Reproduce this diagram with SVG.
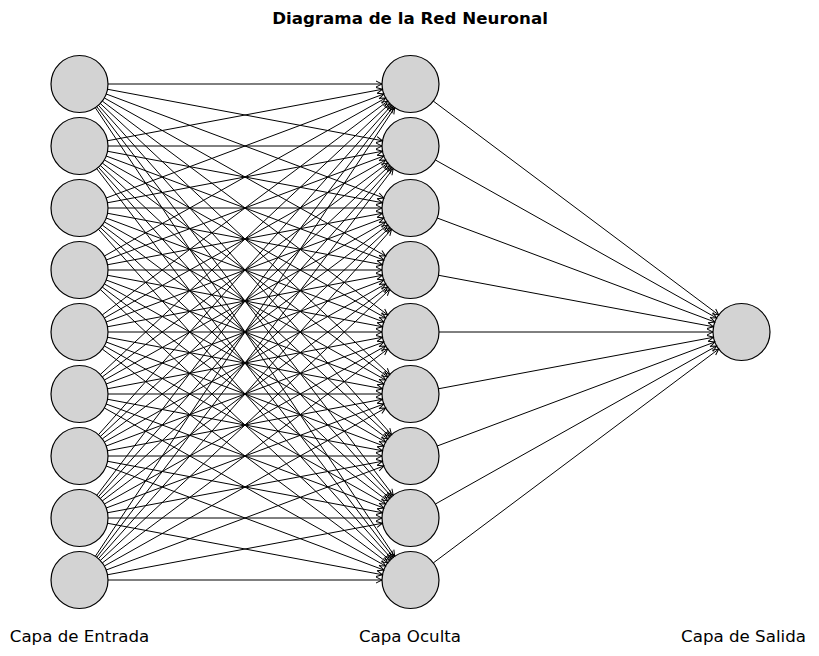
<svg xmlns="http://www.w3.org/2000/svg" width="819" height="656" viewBox="0 0 819 656">
<defs>
<marker id="arr" markerUnits="userSpaceOnUse" markerWidth="12" markerHeight="10" viewBox="-8 -5 10 10" refX="0" refY="0" orient="auto" overflow="visible">
<path d="M-6,-3 L0,0 L-6,3" fill="none" stroke="#000" stroke-width="1"/>
</marker>
</defs>
<style>
.n{fill:#d3d3d3;stroke:#000;stroke-width:1.2}
.c line{stroke:#000;stroke-width:1;marker-end:url(#arr)}
.t{font-family:"DejaVu Sans",sans-serif;font-size:16.67px;fill:#000}
</style>
<rect width="819" height="656" fill="#fff"/>
<text class="t" x="410" y="24" text-anchor="middle" font-weight="bold">Diagrama de la Red Neuronal</text>
<g id="in0"><circle class="n" cx="79.5" cy="84" r="28.5"/></g>
<g id="in1"><circle class="n" cx="79.5" cy="146" r="28.5"/></g>
<g id="in2"><circle class="n" cx="79.5" cy="208" r="28.5"/></g>
<g id="in3"><circle class="n" cx="79.5" cy="270" r="28.5"/></g>
<g id="in4"><circle class="n" cx="79.5" cy="332" r="28.5"/></g>
<g id="in5"><circle class="n" cx="79.5" cy="394" r="28.5"/></g>
<g id="in6"><circle class="n" cx="79.5" cy="456" r="28.5"/></g>
<g id="in7"><circle class="n" cx="79.5" cy="518" r="28.5"/></g>
<g id="in8"><circle class="n" cx="79.5" cy="580" r="28.5"/></g>
<g id="h0"><circle class="n" cx="410.5" cy="84" r="28.5"/></g>
<g id="h1"><circle class="n" cx="410.5" cy="146" r="28.5"/></g>
<g id="h2"><circle class="n" cx="410.5" cy="208" r="28.5"/></g>
<g id="h3"><circle class="n" cx="410.5" cy="270" r="28.5"/></g>
<g id="h4"><circle class="n" cx="410.5" cy="332" r="28.5"/></g>
<g id="h5"><circle class="n" cx="410.5" cy="394" r="28.5"/></g>
<g id="h6"><circle class="n" cx="410.5" cy="456" r="28.5"/></g>
<g id="h7"><circle class="n" cx="410.5" cy="518" r="28.5"/></g>
<g id="h8"><circle class="n" cx="410.5" cy="580" r="28.5"/></g>
<g id="out0"><circle class="n" cx="741.5" cy="332" r="28.5"/></g>
<g id="connectors" class="c">
<line x1="108" y1="84" x2="382" y2="84"/>
<line x1="107.51" y1="89.25" x2="382.49" y2="140.75"/>
<line x1="106.19" y1="94" x2="383.81" y2="198"/>
<line x1="104.35" y1="97.96" x2="385.65" y2="256.04"/>
<line x1="102.31" y1="101.09" x2="387.69" y2="314.91"/>
<line x1="100.3" y1="103.48" x2="389.7" y2="374.52"/>
<line x1="98.45" y1="105.29" x2="391.55" y2="434.71"/>
<line x1="96.78" y1="106.66" x2="393.22" y2="495.34"/>
<line x1="95.32" y1="107.71" x2="394.68" y2="556.29"/>
<line x1="107.51" y1="140.75" x2="382.49" y2="89.25"/>
<line x1="108" y1="146" x2="382" y2="146"/>
<line x1="107.51" y1="151.25" x2="382.49" y2="202.75"/>
<line x1="106.19" y1="156" x2="383.81" y2="260"/>
<line x1="104.35" y1="159.96" x2="385.65" y2="318.04"/>
<line x1="102.31" y1="163.09" x2="387.69" y2="376.91"/>
<line x1="100.3" y1="165.48" x2="389.7" y2="436.52"/>
<line x1="98.45" y1="167.29" x2="391.55" y2="496.71"/>
<line x1="96.78" y1="168.66" x2="393.22" y2="557.34"/>
<line x1="106.19" y1="198" x2="383.81" y2="94"/>
<line x1="107.51" y1="202.75" x2="382.49" y2="151.25"/>
<line x1="108" y1="208" x2="382" y2="208"/>
<line x1="107.51" y1="213.25" x2="382.49" y2="264.75"/>
<line x1="106.19" y1="218" x2="383.81" y2="322"/>
<line x1="104.35" y1="221.96" x2="385.65" y2="380.04"/>
<line x1="102.31" y1="225.09" x2="387.69" y2="438.91"/>
<line x1="100.3" y1="227.48" x2="389.7" y2="498.52"/>
<line x1="98.45" y1="229.29" x2="391.55" y2="558.71"/>
<line x1="104.35" y1="256.04" x2="385.65" y2="97.96"/>
<line x1="106.19" y1="260" x2="383.81" y2="156"/>
<line x1="107.51" y1="264.75" x2="382.49" y2="213.25"/>
<line x1="108" y1="270" x2="382" y2="270"/>
<line x1="107.51" y1="275.25" x2="382.49" y2="326.75"/>
<line x1="106.19" y1="280" x2="383.81" y2="384"/>
<line x1="104.35" y1="283.96" x2="385.65" y2="442.04"/>
<line x1="102.31" y1="287.09" x2="387.69" y2="500.91"/>
<line x1="100.3" y1="289.48" x2="389.7" y2="560.52"/>
<line x1="102.31" y1="314.91" x2="387.69" y2="101.09"/>
<line x1="104.35" y1="318.04" x2="385.65" y2="159.96"/>
<line x1="106.19" y1="322" x2="383.81" y2="218"/>
<line x1="107.51" y1="326.75" x2="382.49" y2="275.25"/>
<line x1="108" y1="332" x2="382" y2="332"/>
<line x1="107.51" y1="337.25" x2="382.49" y2="388.75"/>
<line x1="106.19" y1="342" x2="383.81" y2="446"/>
<line x1="104.35" y1="345.96" x2="385.65" y2="504.04"/>
<line x1="102.31" y1="349.09" x2="387.69" y2="562.91"/>
<line x1="100.3" y1="374.52" x2="389.7" y2="103.48"/>
<line x1="102.31" y1="376.91" x2="387.69" y2="163.09"/>
<line x1="104.35" y1="380.04" x2="385.65" y2="221.96"/>
<line x1="106.19" y1="384" x2="383.81" y2="280"/>
<line x1="107.51" y1="388.75" x2="382.49" y2="337.25"/>
<line x1="108" y1="394" x2="382" y2="394"/>
<line x1="107.51" y1="399.25" x2="382.49" y2="450.75"/>
<line x1="106.19" y1="404" x2="383.81" y2="508"/>
<line x1="104.35" y1="407.96" x2="385.65" y2="566.04"/>
<line x1="98.45" y1="434.71" x2="391.55" y2="105.29"/>
<line x1="100.3" y1="436.52" x2="389.7" y2="165.48"/>
<line x1="102.31" y1="438.91" x2="387.69" y2="225.09"/>
<line x1="104.35" y1="442.04" x2="385.65" y2="283.96"/>
<line x1="106.19" y1="446" x2="383.81" y2="342"/>
<line x1="107.51" y1="450.75" x2="382.49" y2="399.25"/>
<line x1="108" y1="456" x2="382" y2="456"/>
<line x1="107.51" y1="461.25" x2="382.49" y2="512.75"/>
<line x1="106.19" y1="466" x2="383.81" y2="570"/>
<line x1="96.78" y1="495.34" x2="393.22" y2="106.66"/>
<line x1="98.45" y1="496.71" x2="391.55" y2="167.29"/>
<line x1="100.3" y1="498.52" x2="389.7" y2="227.48"/>
<line x1="102.31" y1="500.91" x2="387.69" y2="287.09"/>
<line x1="104.35" y1="504.04" x2="385.65" y2="345.96"/>
<line x1="106.19" y1="508" x2="383.81" y2="404"/>
<line x1="107.51" y1="512.75" x2="382.49" y2="461.25"/>
<line x1="108" y1="518" x2="382" y2="518"/>
<line x1="107.51" y1="523.25" x2="382.49" y2="574.75"/>
<line x1="95.32" y1="556.29" x2="394.68" y2="107.71"/>
<line x1="96.78" y1="557.34" x2="393.22" y2="168.66"/>
<line x1="98.45" y1="558.71" x2="391.55" y2="229.29"/>
<line x1="100.3" y1="560.52" x2="389.7" y2="289.48"/>
<line x1="102.31" y1="562.91" x2="387.69" y2="349.09"/>
<line x1="104.35" y1="566.04" x2="385.65" y2="407.96"/>
<line x1="106.19" y1="570" x2="383.81" y2="466"/>
<line x1="107.51" y1="574.75" x2="382.49" y2="523.25"/>
<line x1="108" y1="580" x2="382" y2="580"/>
<line x1="433.31" y1="101.09" x2="718.69" y2="314.91"/>
<line x1="435.35" y1="159.96" x2="716.65" y2="318.04"/>
<line x1="437.19" y1="218" x2="714.81" y2="322"/>
<line x1="438.51" y1="275.25" x2="713.49" y2="326.75"/>
<line x1="439" y1="332" x2="713" y2="332"/>
<line x1="438.51" y1="388.75" x2="713.49" y2="337.25"/>
<line x1="437.19" y1="446" x2="714.81" y2="342"/>
<line x1="435.35" y1="504.04" x2="716.65" y2="345.96"/>
<line x1="433.31" y1="562.91" x2="718.69" y2="349.09"/>
</g>
<text class="t" x="79.5" y="642" text-anchor="middle">Capa de Entrada</text>
<text class="t" x="410" y="642" text-anchor="middle">Capa Oculta</text>
<text class="t" x="743.5" y="642" text-anchor="middle">Capa de Salida</text>
</svg>
